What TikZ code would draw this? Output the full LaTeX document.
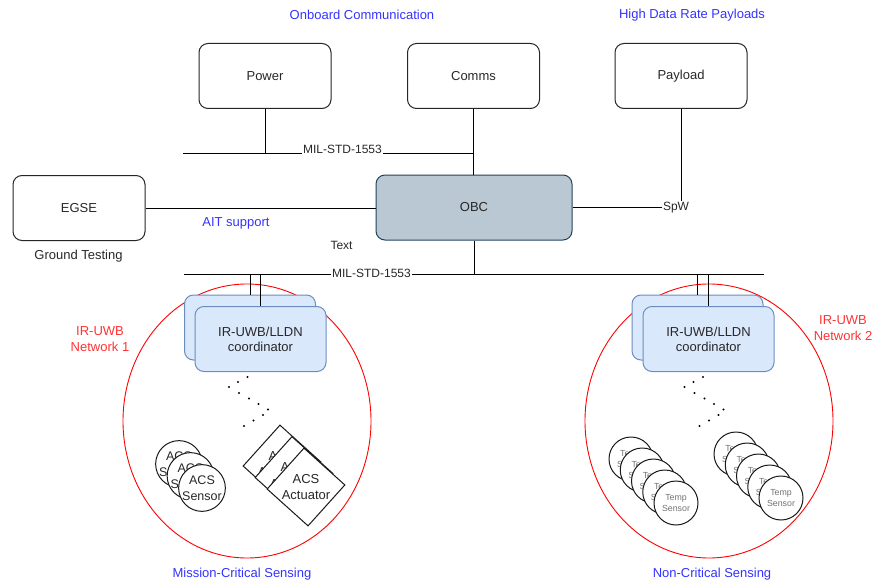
\documentclass[tikz,border=0pt]{standalone}
\usepackage{fontspec}
\setmainfont{Liberation Sans}
\usetikzlibrary{shapes.geometric}
\definecolor{lbl}{RGB}{40,40,40}
\definecolor{notecol}{RGB}{51,51,255}
\definecolor{netred}{RGB}{255,51,51}
\definecolor{obcfill}{HTML}{BAC8D3}
\definecolor{obcline}{HTML}{23445D}
\definecolor{crdfill}{HTML}{DAE8FC}
\definecolor{crdline}{HTML}{6C8EBF}
\begin{document}
\begin{tikzpicture}[x=1pt,y=-1pt,line width=1pt,
  every node/.style={font=\fontsize{13}{15}\selectfont,text=lbl,inner sep=1pt},
  small/.style={font=\fontsize{12}{14}\selectfont},
  unit/.style={draw=black!85,fill=white,rounded corners=9pt,minimum width=132pt,minimum height=65pt},
  obcbox/.style={draw=obcline,fill=obcfill,rounded corners=9pt,minimum width=196pt,minimum height=65pt},
  crd/.style={draw=crdline,fill=crdfill,rounded corners=9pt,minimum width=131pt,minimum height=65pt,align=center},
  buslabel/.style={small,fill=white,inner sep=1pt,minimum height=12pt},
  notelbl/.style={text=notecol},
  netlbl/.style={text=netred,align=center,font=\fontsize{13}{15.5}\selectfont},
  zone/.style={ellipse,draw=red,line width=0.9pt,minimum width=248pt,minimum height=274pt,inner sep=0pt},
  acs/.style={circle,draw=black!90,fill=white,minimum size=46pt,inner sep=0pt,align=center,font=\fontsize{12.5}{16}\selectfont},
  temp/.style={circle,draw=black!90,fill=white,minimum size=44pt,inner sep=0pt,align=center,text=black!55,font=\fontsize{8.8}{10.5}\selectfont},
  actbody/.style={draw=black!90,fill=white,minimum width=55pt,minimum height=55pt,rotate=-42,inner sep=0pt},
  acttext/.style={align=center,font=\fontsize{13}{16.5}\selectfont}
]
\useasboundingbox (0,0) rectangle (875,583);

% network areas
\node[zone] (net1) at (247,421) {};
\node[zone] (net2) at (709,421) {};

% headings
\node[notelbl] (hdOnboard) at (362,15) {Onboard Communication};
\node[notelbl] (hdPayload) at (692,15) {High Data Rate Payloads};

% subsystems
\node[unit] (power) at (265,76) {Power};
\node[unit] (comms) at (473.5,76) {Comms};
\node[unit] (payload) at (681,76) {Payload};
\node[unit] (egse) at (79,208) {EGSE};
\node[obcbox] (obc) at (474,207.5) {OBC};

\node (ground) at (78.5,256) {Ground Testing};
\node[notelbl] (ait) at (236,223) {AIT support};
\node[small] (txt) at (341.5,245) {Text};

% upper MIL-STD-1553 bus
\coordinate (bt1) at (183,153);
\draw (bt1) -- (bt1 -| comms.south);
\node[buslabel] (busTopLbl) at (342.5,149) {MIL-STD-1553};
\draw (power.south) -- (power.south |- bt1);
\draw (comms.south) -- (comms.south |- obc.north);

% EGSE and SpaceWire links
\draw (egse.east) -- (egse.east -| obc.west);
\node[buslabel] (spw) at (676,207.5) {SpW};
\draw (obc.east) -- (spw.west);
\draw (payload.south) -- (payload.south |- spw.north);

% lower MIL-STD-1553 bus
\coordinate (bb1) at (184,274);
\coordinate (bb2) at (764,274);
\draw (bb1) -- (bb2);
\node[buslabel] (busLowLbl) at (371.5,273.5) {MIL-STD-1553};
\draw (obc.south) -- (obc.south |- bb1);

% coordinators
\node[crd] (c1b) at (250,327.5) {};
\node[crd] (c1) at (260.5,339) {IR-UWB/LLDN\\coordinator};
\node[crd] (c2b) at (697.5,327.5) {};
\node[crd] (c2) at (708.5,339) {IR-UWB/LLDN\\coordinator};
\draw (c1b.north) -- (c1b.north |- bb1);
\draw (c1.north) -- (c1.north |- bb1);
\draw (c2b.north) -- (c2b.north |- bb1);
\draw (c2.north) -- (c2.north |- bb1);

% network names
\node[netlbl] (n1lbl) at (100,339) {IR-UWB\\Network 1};
\node[netlbl] (n2lbl) at (843,328) {IR-UWB\\Network 2};

% dotted wireless paths
\foreach \dx in {0,455.5}{
  \foreach \px/\py in {247.5/377,238/382,229/387,239/393,249/398.5,258.5/404,268/409.5,263/415,253.5/420.5,244/426}{
    \fill[black] (\px+\dx,\py) circle (1.2pt);
  }
}

% ACS sensors
\node[acs] (s1) at (179,464) {ACS\\Sensor};
\node[acs] (s2) at (190.5,476) {ACS\\Sensor};
\node[acs] (s3) at (202,488) {ACS\\Sensor};

% ACS actuators
\node[actbody] (a1) at (282,464) {};
\node[acttext] (a1t) at (282,464) {ACS\\Actuator};
\node[actbody] (a2) at (294,475.5) {};
\node[acttext] (a2t) at (294,475.5) {ACS\\Actuator};
\node[actbody] (a3) at (306,487) {};
\node[acttext] (a3t) at (306,487) {ACS\\Actuator};

% temperature sensors
\foreach \k in {0,...,4}{
  \node[temp] (tl\k) at (631+11.25*\k,459+11*\k) {Temp\\Sensor};
}
\foreach \k in {0,...,4}{
  \node[temp] (tr\k) at (736+11.25*\k,454+11*\k) {Temp\\Sensor};
}

% area captions
\node[notelbl] (mcs) at (242,574) {Mission-Critical Sensing};
\node[notelbl] (ncs) at (712,574) {Non-Critical Sensing};
\end{tikzpicture}
\end{document}
